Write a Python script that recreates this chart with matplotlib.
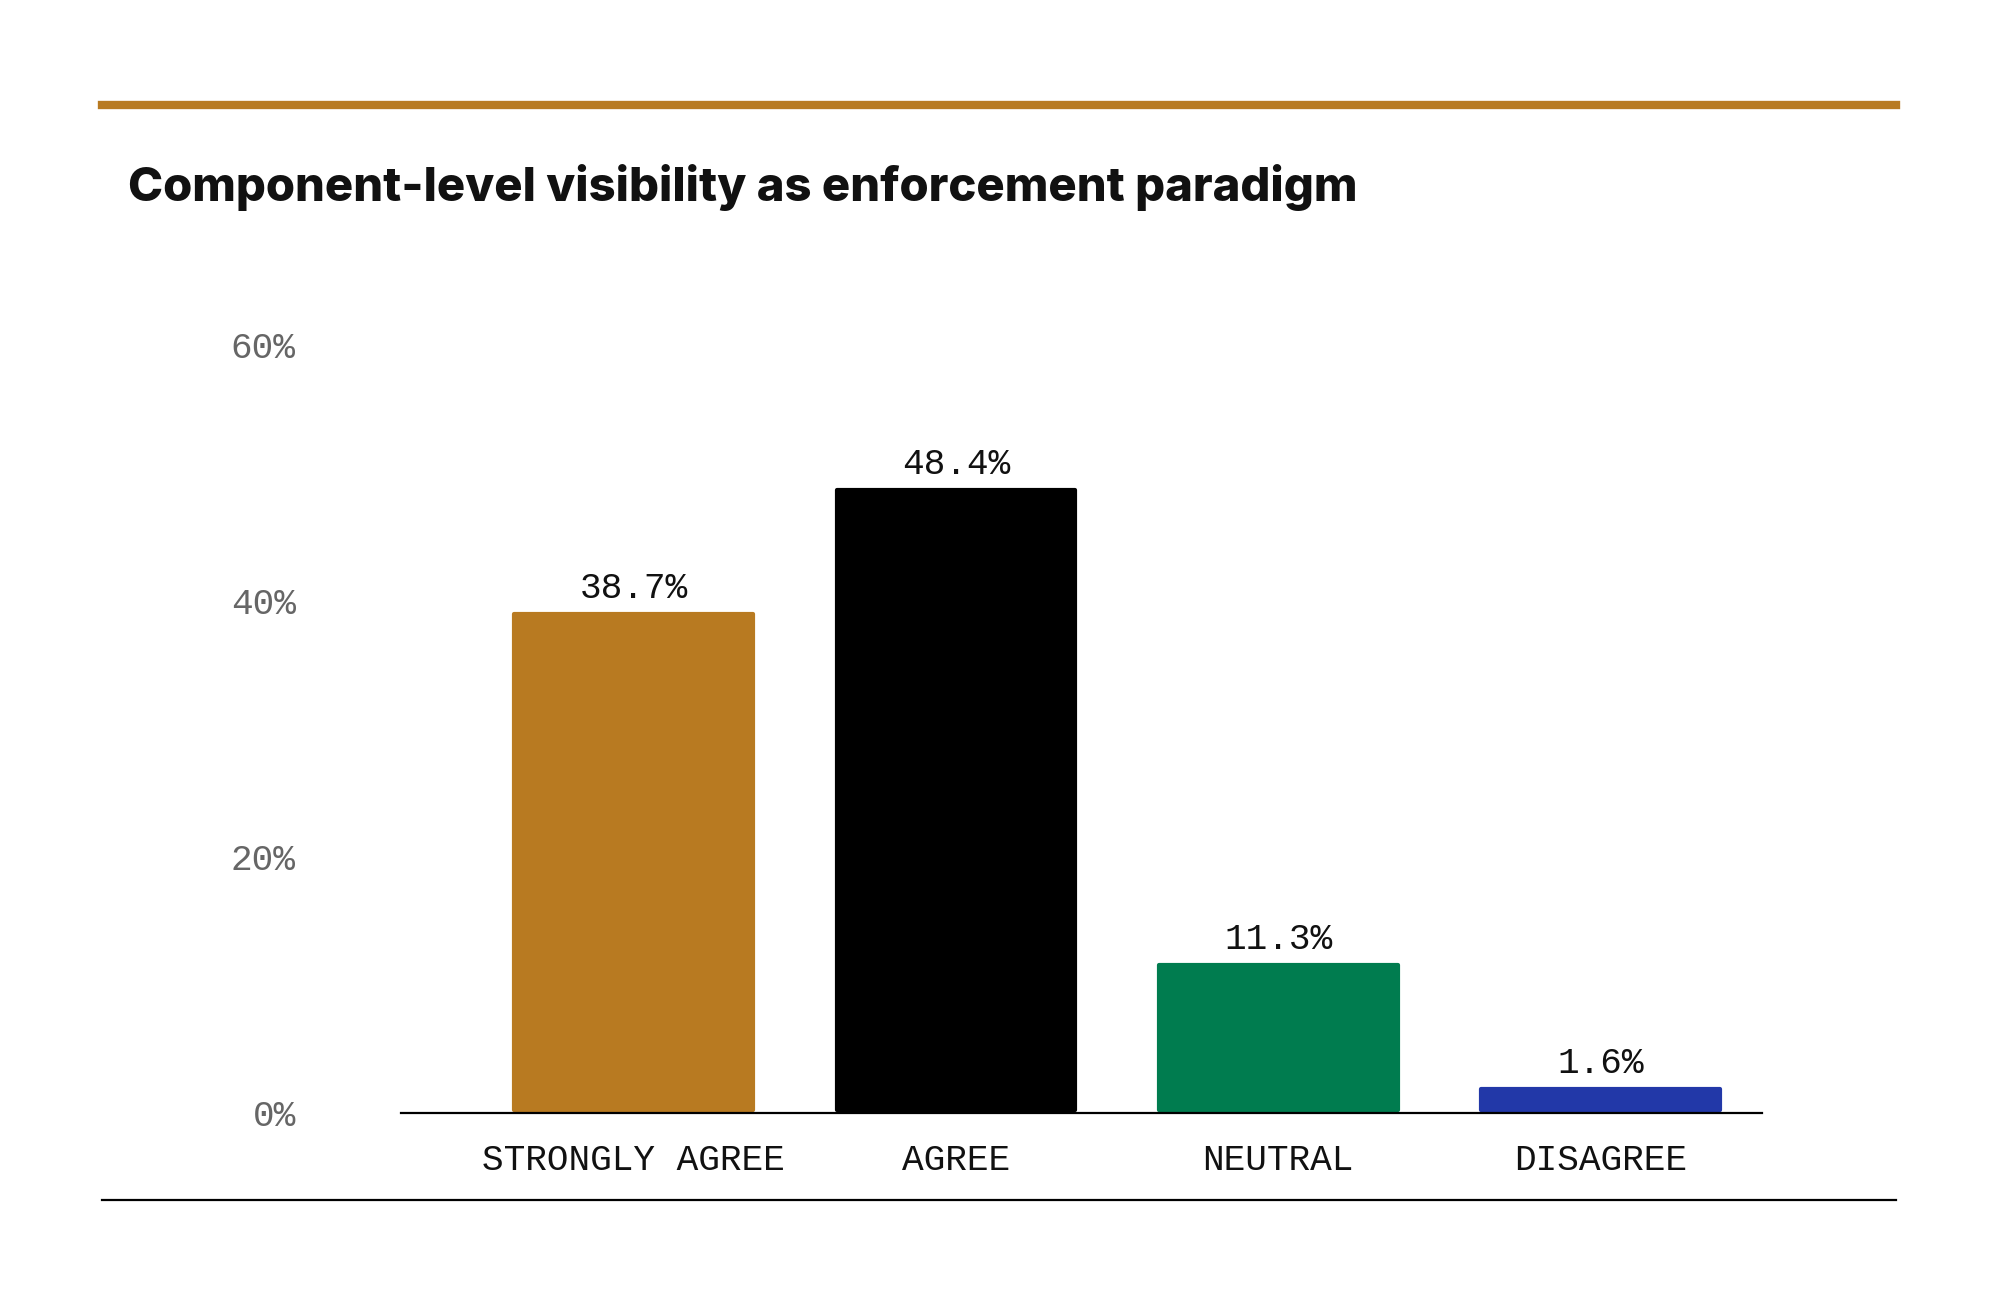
import matplotlib.pyplot as plt
from matplotlib.lines import Line2D

categories = ['STRONGLY AGREE', 'AGREE', 'NEUTRAL', 'DISAGREE']
values = [38.7, 48.4, 11.3, 1.6]
colors = ['#b87a21', '#000000', '#007c4f', '#2238a8']
yticks = [0, 20, 40, 60]

mono = ['Liberation Mono', 'DejaVu Sans Mono']

fig = plt.figure(figsize=(20, 12.96), dpi=100)
fig.patch.set_facecolor('white')

# decorative rules
fig.add_artist(Line2D([0.051, 0.948], [0.919, 0.919], color='#b87a21', lw=6))
fig.add_artist(Line2D([0.051, 0.948], [0.074, 0.074], color='black', lw=1.6))
fig.text(0.064, 0.855, 'Component-level visibility as enforcement paradigm',
         fontsize=34, fontweight='heavy', family=['Inter', 'DejaVu Sans'],
         color='#111111', va='center')

ax = fig.add_axes([0.2006, 0.1413, 0.6804, 0.5927])
x = list(range(len(categories)))
ax.bar(x, values, width=0.74, bottom=0.25, color=colors,
       edgecolor=colors, linewidth=3, joinstyle='round')
for xi, v in zip(x, values):
    ax.text(xi, v + 0.9, f'{v}%', ha='center', va='bottom', fontsize=26,
            family=mono, color='#111111')

ax.set_ylim(0, 60)
ax.set_xlim(-0.72, 3.5)
ax.set_yticks(yticks)
ax.set_yticklabels([f'{t}%' for t in yticks], family=mono, fontsize=26, color='#666666')
ax.set_xticks(x)
ax.set_xticklabels(categories, family=mono, fontsize=26, color='#111111')
ax.tick_params(length=0)
ax.tick_params(axis='y', pad=76)
ax.tick_params(axis='x', pad=22)
for s in ['top', 'right', 'left']:
    ax.spines[s].set_visible(False)
ax.spines['bottom'].set_linewidth(1.6)

fig.savefig('out.png', dpi=100)
